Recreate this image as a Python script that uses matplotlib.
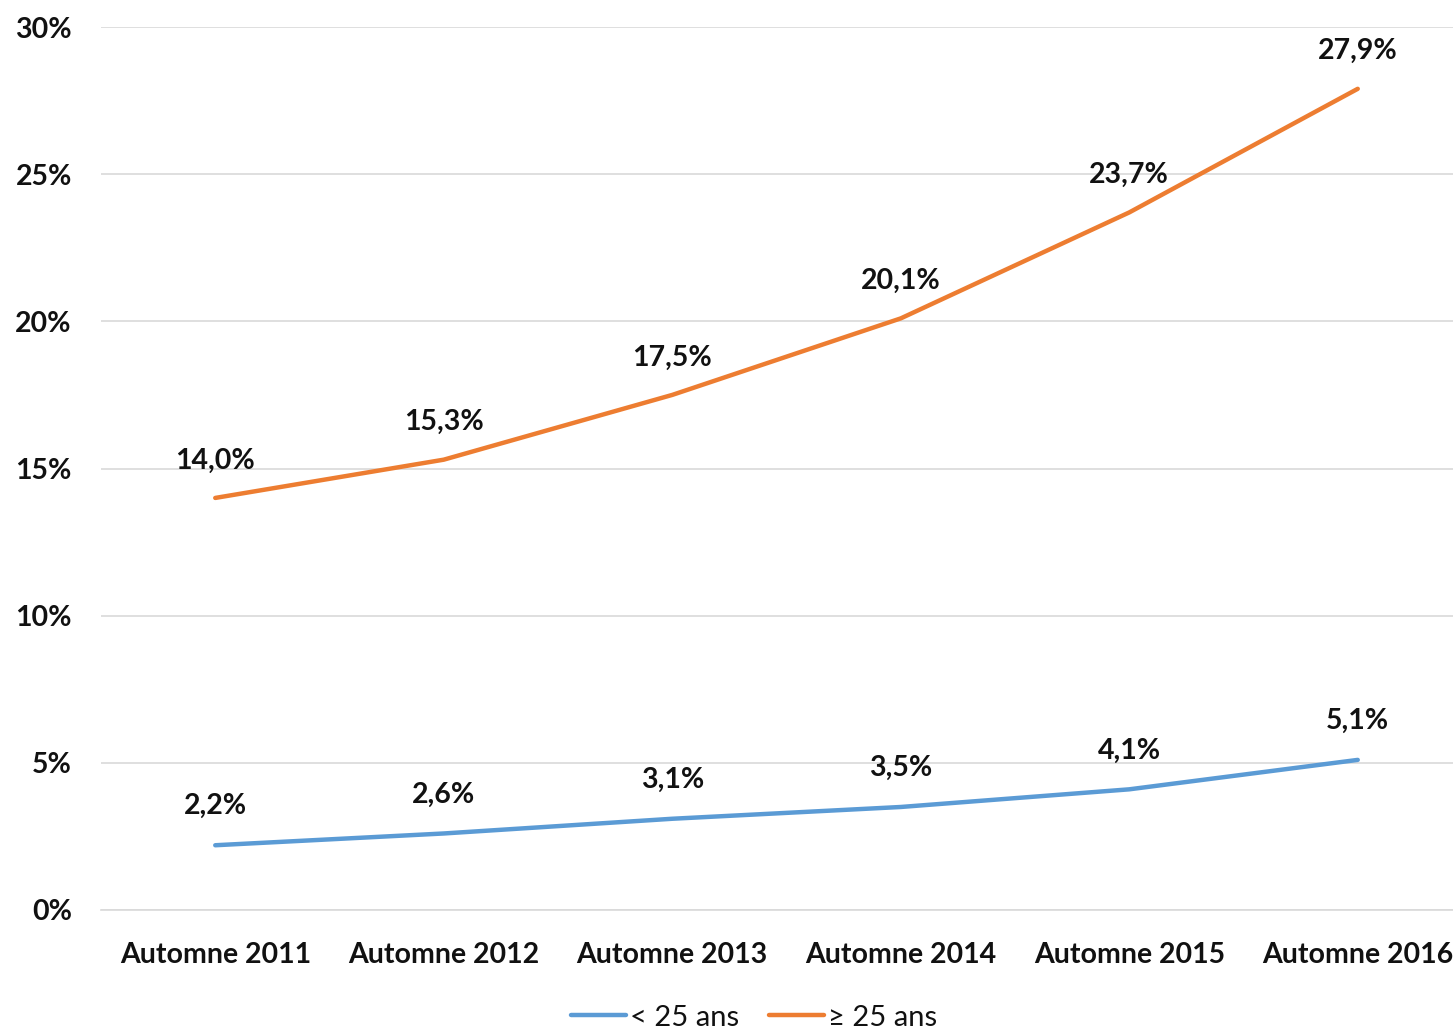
import matplotlib
matplotlib.use('Agg')
import matplotlib.pyplot as plt
from matplotlib.ticker import FuncFormatter

# Data.
categories = ['Automne 2011', 'Automne 2012', 'Automne 2013',
              'Automne 2014', 'Automne 2015', 'Automne 2016']
moins_25 = [2.2, 2.6, 3.1, 3.5, 4.1, 5.1]
plus_25 = [14.0, 15.3, 17.5, 20.1, 23.7, 27.9]
series_names = ['< 25 ans', '≥ 25 ans']

plt.rcParams['font.family'] = ['Lato', 'DejaVu Sans']

fig = plt.figure(figsize=(14.53, 10.30), dpi=100)
ax = fig.add_axes([101 / 1453, 1 - 910 / 1030, 1371 / 1453, 883 / 1030])

x = list(range(len(categories)))
blue = '#5b9bd5'
orange = '#ed7d31'
txt = '#111111'
ax.plot(x, moins_25, color=blue, lw=3.2, label=series_names[0], solid_capstyle='round')
ax.plot(x, plus_25, color=orange, lw=3.2, label=series_names[1], solid_capstyle='round')

# Data labels.
for xi, v in zip(x, moins_25):
    ax.annotate(f'{v:.1f}%'.replace('.', ','), (xi, v), xytext=(0, 28),
                textcoords='offset points', ha='center', va='center',
                fontsize=20.5, fontweight='bold', color=txt)
for xi, v in zip(x, plus_25):
    ax.annotate(f'{v:.1f}%'.replace('.', ','), (xi, v), xytext=(0, 27),
                textcoords='offset points', ha='center', va='center',
                fontsize=20.5, fontweight='bold', color=txt)

ax.set_xlim(-0.5, len(categories) - 0.5)
ax.set_ylim(0, 30)
ax.set_yticks(range(0, 31, 5))
ax.yaxis.set_major_formatter(FuncFormatter(lambda v, p: f'{int(v)}%'))
ax.set_xticks(x)
ax.set_xticklabels(categories)

ax.grid(axis='y', color='#d9d9d9', lw=1.2)
ax.set_axisbelow(True)
for s in ['top', 'right', 'left']:
    ax.spines[s].set_visible(False)
ax.spines['bottom'].set_color('#d9d9d9')
ax.spines['bottom'].set_linewidth(1.2)

ax.tick_params(axis='both', length=0, labelsize=20.5, labelcolor=txt)
ax.tick_params(axis='y', pad=21)
ax.tick_params(axis='x', pad=23)
for lab in ax.get_xticklabels() + ax.get_yticklabels():
    lab.set_fontweight('bold')

leg = fig.legend(loc='center', bbox_to_anchor=(0.519, 0.012), ncol=2, frameon=False,
                 fontsize=21, handlelength=1.9, handletextpad=0.15, columnspacing=1.0)
for t in leg.get_texts():
    t.set_color(txt)

plt.savefig('out.png', dpi=100)
